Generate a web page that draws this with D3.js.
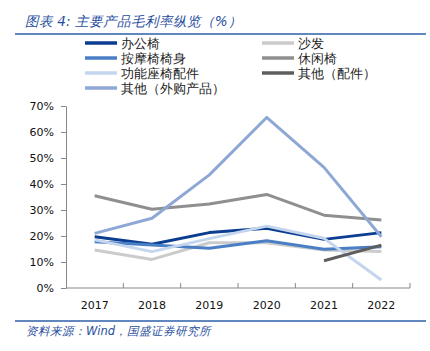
<!DOCTYPE html>
<html>
<head>
<meta charset="utf-8">
<script src="https://cdn.jsdelivr.net/npm/d3@7"></script>
<style>
  body { margin: 0; background: #fff; }
  svg text { font-family: "DejaVu Sans", sans-serif; }
</style>
</head>
<body>
<svg id="chart" width="430" height="351"></svg>
<script>
// years on the x axis
const years = ["2017", "2018", "2019", "2020", "2021", "2022"];
const yTicks = [0, 0.1, 0.2, 0.3, 0.4, 0.5, 0.6, 0.7];

// gross margin per product line (null = no data)
const officeChair = [0.197, 0.168, 0.213, 0.230, 0.187, 0.213];
const sofa = [0.146, 0.110, 0.174, 0.174, 0.146, 0.140];
const massageChair = [0.178, 0.165, 0.153, 0.182, 0.149, 0.159];
const leisureChair = [0.355, 0.303, 0.323, 0.360, 0.280, 0.262];
const seatParts = [0.185, 0.140, 0.190, 0.238, 0.191, 0.031];
const otherParts = [null, null, null, null, 0.105, 0.165];
const otherPurchased = [0.210, 0.268, 0.435, 0.656, 0.464, 0.197];

const series = [
  { name: "办公椅", values: officeChair, color: "#0B3D91" },
  { name: "沙发", values: sofa, color: "#CBCBCB" },
  { name: "按摩椅椅身", values: massageChair, color: "#4A7FC6" },
  { name: "休闲椅", values: leisureChair, color: "#8F8F8F" },
  { name: "功能座椅配件", values: seatParts, color: "#C4D5EE" },
  { name: "其他（配件）", values: otherParts, color: "#5E5E5E" },
  { name: "其他（外购产品）", values: otherPurchased, color: "#8EA8D6" }
];

const svg = d3.select("#chart");
const margin = { top: 106, left: 66, right: 20, bottom: 63 };
const width = 430 - margin.left - margin.right;
const height = 351 - margin.top - margin.bottom;

// title and rules
svg.append("text")
  .attr("x", 25).attr("y", 26)
  .attr("font-size", 13.5).attr("font-style", "italic")
  .attr("fill", "#1F4E9E")
  .attr("font-family", "'Noto Sans CJK SC', sans-serif")
  .text("图表 4:  主要产品毛利率纵览（%）");

svg.append("line").attr("x1", 15).attr("x2", 426).attr("y1", 34).attr("y2", 34)
  .attr("stroke", "#2E5FA8").attr("stroke-width", 1.5);
svg.append("line").attr("x1", 15).attr("x2", 426).attr("y1", 321).attr("y2", 321)
  .attr("stroke", "#2E5FA8").attr("stroke-width", 1.5);

svg.append("text")
  .attr("x", 26).attr("y", 335)
  .attr("font-size", 11.5).attr("font-style", "italic")
  .attr("fill", "#1F4E9E")
  .attr("font-family", "'Noto Sans CJK SC', sans-serif")
  .text("资料来源：Wind，国盛证券研究所");

// legend, two columns
const legend = svg.append("g");
series.forEach((s, i) => {
  const col = i % 2, row = Math.floor(i / 2);
  const lx = col === 0 ? 85 : 262;
  const ly = 43 + row * 15;
  legend.append("line")
    .attr("x1", lx).attr("x2", lx + 32).attr("y1", ly).attr("y2", ly)
    .attr("stroke", s.color).attr("stroke-width", 3.5);
  legend.append("text")
    .attr("x", lx + 36).attr("y", ly + 4.5)
    .attr("font-size", 12.5)
    .attr("font-family", "'Noto Sans CJK SC', sans-serif")
    .attr("fill", "#222")
    .text(s.name);
});

const g = svg.append("g").attr("transform", `translate(${margin.left},${margin.top})`);

const x = d3.scaleBand().domain(years).range([0, width]);
const y = d3.scaleLinear().domain([0, 0.7]).range([height, 0]);

// y axis
const yAxis = g.append("g")
  .call(d3.axisLeft(y).tickValues(yTicks).tickFormat(d3.format(".0%")).tickSize(5).tickSizeOuter(0));
yAxis.select(".domain").attr("stroke", "#888");
yAxis.selectAll(".tick line").attr("stroke", "#888");
yAxis.selectAll("text").attr("font-size", 11).attr("fill", "#111")
  .attr("font-family", "'DejaVu Sans', sans-serif").attr("x", -12);

// x axis with ticks on band boundaries
const xAxis = g.append("g").attr("transform", `translate(0,${height})`);
xAxis.append("line").attr("x1", 0).attr("x2", width).attr("stroke", "#888");
xAxis.selectAll(".bt").data(years)
  .enter().append("line")
  .attr("x1", d => x(d) + x.bandwidth()).attr("x2", d => x(d) + x.bandwidth())
  .attr("y1", 0).attr("y2", -5)
  .attr("stroke", "#888");
xAxis.selectAll(".lbl").data(years)
  .enter().append("text")
  .attr("x", d => x(d) + x.bandwidth() / 2)
  .attr("y", 21)
  .attr("text-anchor", "middle")
  .attr("font-size", 11)
  .attr("fill", "#111")
  .text(d => d);

// lines
const line = d3.line()
  .defined(d => d.v !== null)
  .x(d => x(d.year) + x.bandwidth() / 2)
  .y(d => y(d.v));

series.forEach(s => {
  g.append("path")
    .datum(years.map((yr, i) => ({ year: yr, v: s.values[i] })))
    .attr("fill", "none")
    .attr("stroke", s.color)
    .attr("stroke-width", 3)
    .attr("stroke-linejoin", "round")
    .attr("d", line);
});
</script>
</body>
</html>
